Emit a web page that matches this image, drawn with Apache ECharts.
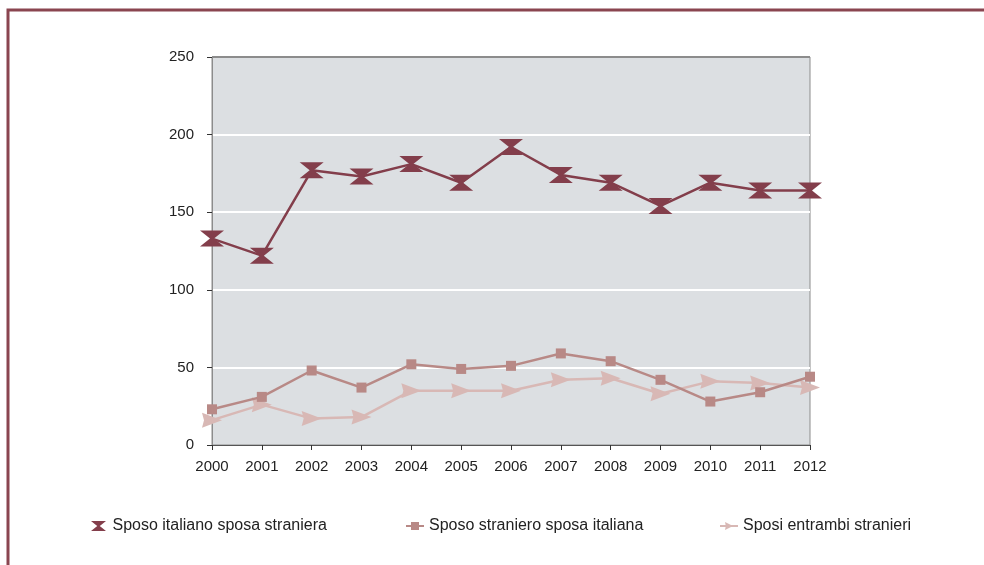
<!DOCTYPE html>
<html>
<head>
<meta charset="utf-8">
<script src="https://cdn.jsdelivr.net/npm/echarts@6/dist/echarts.min.js"></script>
<style>
  html, body { margin: 0; padding: 0; background: #fff; }
  #chart { width: 984px; height: 565px; }
</style>
</head>
<body>
<div id="chart"></div>
<script>
const years = ['2000', '2001', '2002', '2003', '2004', '2005', '2006', '2007', '2008', '2009', '2010', '2011', '2012'];
const italianoStraniera = [133, 122, 177, 173, 181, 169, 192, 174, 169, 154, 169, 164, 164];
const stranieroItaliana = [23, 31, 48, 37, 52, 49, 51, 59, 54, 42, 28, 34, 44];
const entrambiStranieri = [16, 26, 17, 18, 35, 35, 35, 42, 43, 33, 41, 40, 37];
const seriesNames = ['Sposo italiano sposa straniera', 'Sposo straniero sposa italiana', 'Sposi entrambi stranieri'];

const chart = echarts.init(document.getElementById('chart'));

const hourglass = 'path://M0,0 L24,0 L14,8 L24,16 L0,16 L10,8 Z';
const arrow = 'path://M0,0 L20,8 L0,16 L2,8 Z';

const font = 'Liberation Sans, Arial, sans-serif';

const legendBase = {
  top: 513,
  itemWidth: 18,
  itemHeight: 10,
  itemGap: 8,
  textStyle: { fontFamily: font, fontSize: 16, color: '#222' }
};

const option = {
  backgroundColor: '#fff',
  animation: false,
  graphic: [{
    type: 'rect',
    shape: { x: 8, y: 10, width: 1100, height: 700 },
    style: { fill: 'none', stroke: '#8a4550', lineWidth: 3 },
    silent: true
  }],
  legend: [
    Object.assign({}, legendBase, { left: 86, data: [{ name: seriesNames[0], icon: hourglass }] }),
    Object.assign({}, legendBase, { left: 400, data: [{ name: seriesNames[1] }] }),
    Object.assign({}, legendBase, { left: 714, data: [{ name: seriesNames[2] }] })
  ],
  grid: {
    left: 212,
    right: 174,
    top: 57,
    bottom: 120,
    show: true,
    backgroundColor: '#dcdfe2',
    borderColor: '#8c8c8c',
    borderWidth: 1
  },
  xAxis: {
    type: 'category',
    boundaryGap: false,
    data: years,
    axisLine: { lineStyle: { color: '#555', width: 1 } },
    axisTick: { show: true, length: 5, lineStyle: { color: '#333' } },
    axisLabel: { color: '#222', fontFamily: font, fontSize: 15, margin: 14 },
    splitLine: { show: false }
  },
  yAxis: {
    type: 'value',
    min: 0,
    max: 250,
    interval: 50,
    axisLine: { show: true, lineStyle: { color: '#8c8c8c', width: 1 } },
    axisTick: { show: true, length: 5, lineStyle: { color: '#333' } },
    axisLabel: { color: '#222', fontFamily: font, fontSize: 15, margin: 18 },
    splitLine: {
      show: true,
      lineStyle: { color: ['transparent', '#fff', '#fff', '#fff', '#fff', '#8c8c8c'], width: 2 }
    }
  },
  series: [
    {
      name: seriesNames[0],
      type: 'line',
      data: italianoStraniera,
      symbol: hourglass,
      symbolSize: [24, 16],
      showAllSymbol: true,
      lineStyle: { color: '#833e4b', width: 2.5 },
      itemStyle: { color: '#833e4b' },
      z: 4
    },
    {
      name: seriesNames[1],
      type: 'line',
      data: stranieroItaliana,
      symbol: 'rect',
      symbolSize: 10,
      showAllSymbol: true,
      lineStyle: { color: '#b88986', width: 2.5 },
      itemStyle: { color: '#b88986' },
      z: 3
    },
    {
      name: seriesNames[2],
      type: 'line',
      data: entrambiStranieri,
      symbol: arrow,
      symbolSize: [20, 15],
      showAllSymbol: true,
      lineStyle: { color: '#d8b8b5', width: 2.5 },
      itemStyle: { color: '#d8b8b5' },
      z: 2
    }
  ]
};

chart.setOption(option);
</script>
</body>
</html>
